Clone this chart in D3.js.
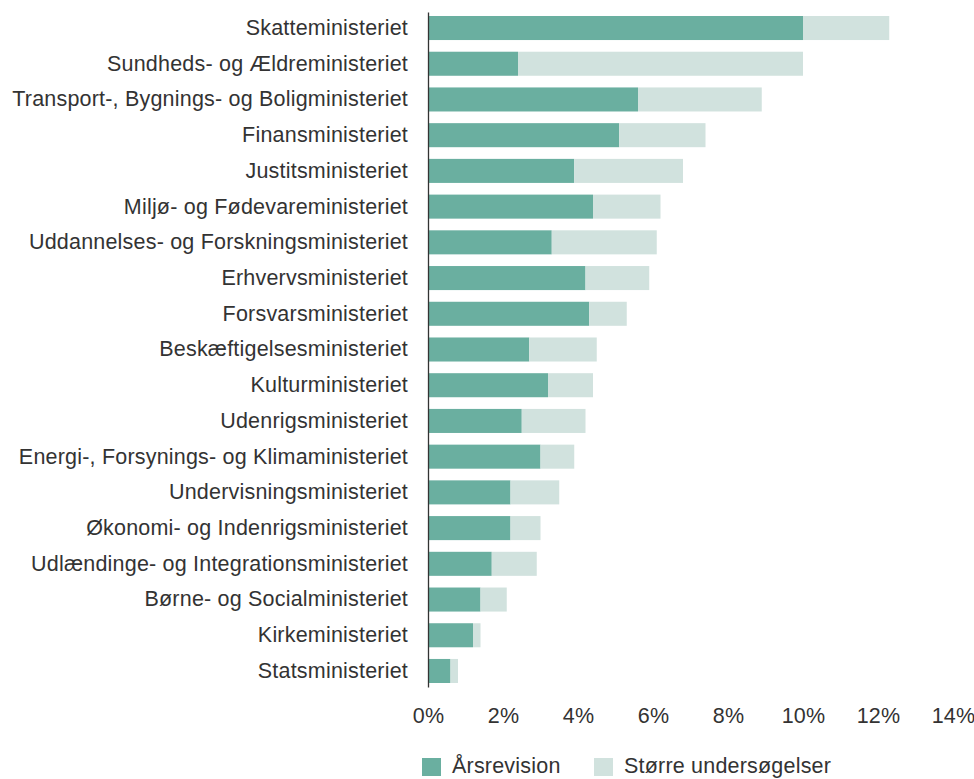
<!DOCTYPE html>
<html>
<head>
<meta charset="utf-8">
<script src="https://cdn.jsdelivr.net/npm/d3@7"></script>
<style>
  body { margin: 0; background: #fff; }
  text { font-family: "Liberation Sans", Arial, sans-serif; fill: #333; letter-spacing: 0.2px; }
</style>
</head>
<body>
<div id="chart"></div>
<script>
const categories = [
    "Skatteministeriet",
    "Sundheds- og Ældreministeriet",
    "Transport-, Bygnings- og Boligministeriet",
    "Finansministeriet",
    "Justitsministeriet",
    "Miljø- og Fødevareministeriet",
    "Uddannelses- og Forskningsministeriet",
    "Erhvervsministeriet",
    "Forsvarsministeriet",
    "Beskæftigelsesministeriet",
    "Kulturministeriet",
    "Udenrigsministeriet",
    "Energi-, Forsynings- og Klimaministeriet",
    "Undervisningsministeriet",
    "Økonomi- og Indenrigsministeriet",
    "Udlændinge- og Integrationsministeriet",
    "Børne- og Socialministeriet",
    "Kirkeministeriet",
    "Statsministeriet"
]
// share in percent
const aarsrevision = [10.0, 2.4, 5.6, 5.1, 3.9, 4.4, 3.3, 4.2, 4.3, 2.7, 3.2, 2.5, 3.0, 2.2, 2.2, 1.7, 1.4, 1.2, 0.6]
const undersoegelser = [2.3, 7.6, 3.3, 2.3, 2.9, 1.8, 2.8, 1.7, 1.0, 1.8, 1.2, 1.7, 0.9, 1.3, 0.8, 1.2, 0.7, 0.2, 0.2]
const seriesNames = ["Årsrevision", "Større undersøgelser"]
const colors = ["#6aafa0", "#d1e2de"]
const xTicks = [0, 2, 4, 6, 8, 10, 12, 14]

const width = 974
const height = 779
const margin = { top: 12, left: 428, right: 21, bottom: 92 }
const iwidth = width - margin.left - margin.right
const iheight = height - margin.top - margin.bottom
const fontSize = 21.5

const data = categories.map((c, i) => ({ name: c, a: aarsrevision[i], b: undersoegelser[i] }))

const svg = d3.select("#chart").append("svg")
    .attr("width", width)
    .attr("height", height)

const g = svg.append("g")
    .attr("transform", `translate(${margin.left}, ${margin.top})`)

const x = d3.scaleLinear()
    .domain([0, 14])
    .range([0, iwidth])

const y = d3.scaleBand()
    .domain(categories)
    .range([0, iheight])
    .paddingInner(0.327)
    .paddingOuter(0.112)

g.selectAll("rect.a").data(data).join("rect")
    .attr("class", "a")
    .attr("x", 0)
    .attr("y", d => y(d.name))
    .attr("width", d => x(d.a))
    .attr("height", y.bandwidth())
    .attr("fill", colors[0])

g.selectAll("rect.b").data(data).join("rect")
    .attr("class", "b")
    .attr("x", d => x(d.a))
    .attr("y", d => y(d.name))
    .attr("width", d => x(d.a + d.b) - x(d.a))
    .attr("height", y.bandwidth())
    .attr("fill", colors[1])

// category labels + vertical axis line
const yAxis = g.append("g")
    .call(d3.axisLeft(y).tickSize(0).tickPadding(20))
yAxis.select(".domain").attr("stroke", "#333").attr("stroke-width", 1.3)
yAxis.selectAll("text")
    .attr("font-size", fontSize)
    .attr("fill", "#333")
    .style("font-family", "'Liberation Sans', Arial, sans-serif")

const xAxis = g.append("g")
    .attr("transform", `translate(0, ${iheight})`)
    .call(d3.axisBottom(x).tickValues(xTicks).tickFormat(d => d + "%").tickSize(0).tickPadding(21))
xAxis.select(".domain").remove()
xAxis.selectAll("text")
    .attr("font-size", fontSize)
    .attr("fill", "#333")
    .style("font-family", "'Liberation Sans', Arial, sans-serif")

// legend
const legend = svg.append("g")
    .attr("transform", `translate(422, 758)`)
const legendX = [0, 172]
seriesNames.forEach((s, i) => {
    const lg = legend.append("g").attr("transform", `translate(${legendX[i]}, 0)`)
    lg.append("rect")
        .attr("width", 19)
        .attr("height", 18)
        .attr("fill", colors[i])
    lg.append("text")
        .attr("x", 30)
        .attr("y", 7)
        .attr("dy", "0.36em")
        .attr("font-size", fontSize)
        .text(s)
})
</script>
</body>
</html>
